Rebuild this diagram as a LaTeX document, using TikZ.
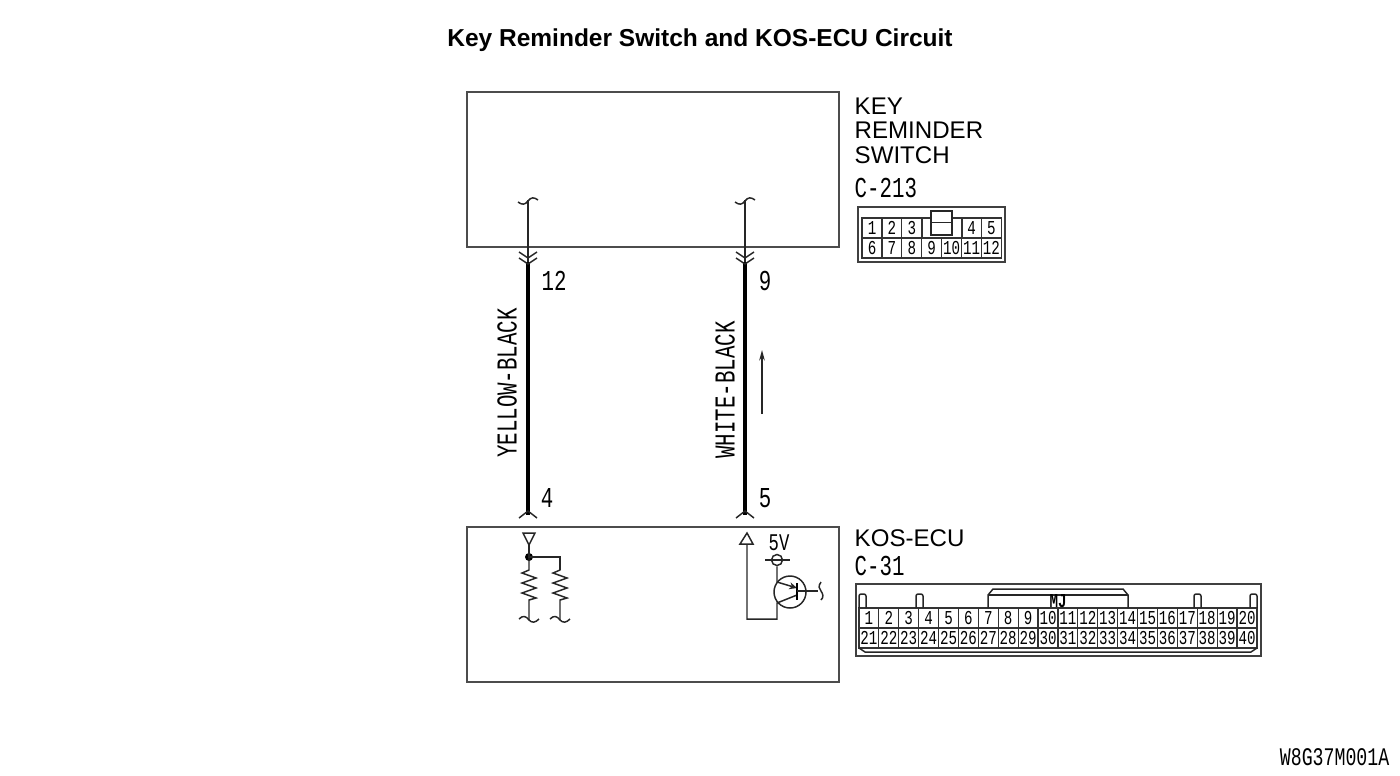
\documentclass[tikz,border=0pt]{standalone}
\usepackage{fontspec}
\setmainfont{Liberation Sans}
\newfontfamily\narrowfont[FakeStretch=0.72]{Liberation Mono}
\usetikzlibrary{arrows.meta}
\definecolor{boxgray}{gray}{0.3}
\newdimen\punit \punit=0.01cm
\tikzset{
    unit/.style={draw=boxgray, line width=0.5pt, inner sep=0pt},
    name text/.style={anchor=west, inner sep=0pt, font=\fontsize{6.85}{6.85}\selectfont},
    wire text/.style={inner sep=0pt, font=\narrowfont\fontsize{8.2}{8.2}\selectfont},
    thin wire/.style={line width=0.42pt, black!85},
    cell/.style={draw=black!80, line width=0.35pt, inner sep=0pt, minimum height=20\punit, font=\narrowfont\fontsize{5.6}{5.6}\selectfont},
}
\begin{document}
\begin{tikzpicture}[x=0.01cm, y=-0.01cm]
    \useasboundingbox (0,0) rectangle (1400,775);
    \node[inner sep=0pt, font=\bfseries\fontsize{6.97}{6.97}\selectfont] (title) at (700,40) {Key Reminder Switch and KOS-ECU Circuit};

    % units
    \node[unit, minimum width=372\punit, minimum height=155\punit] (switch) at (653,169.5) {};
    \node[unit, minimum width=372\punit, minimum height=155\punit] (ecu) at (653,604.5) {};
    \node[name text] (key) at (854,106) {KEY};
    \node[name text] (rem) at (854,130) {REMINDER};
    \node[name text] (sw) at (854,155) {SWITCH};
    \node[name text] (kos) at (854,538) {KOS-ECU};
    \node[wire text, anchor=west] (c213) at (854,188) {C-213};
    \node[wire text, anchor=west] (c31) at (854,566) {C-31};
    \node[wire text, anchor=east, font=\narrowfont\fontsize{7.2}{7.2}\selectfont] (code) at (1390,757) {W8G37M001A};

    % wires
    \foreach \n/\x in {a/528, b/745} {
        \coordinate (\n top) at (\x,200);
        \coordinate (\n mid) at (\x,262);
        \coordinate (\n low) at (\x,515);
        \draw[thin wire] (\n top) -- (\n mid);
        \draw[line width=1pt] (\n mid) -- (\n low);
        \draw[thin wire] (\x-10,202) .. controls (\x-6,205) and (\x-3,205) .. (\x,201) .. controls (\x+3,197) and (\x+6,197) .. (\x+10,200);
        \draw[thin wire] (\x-9,252) -- (\x,258) -- (\x+9,252);
        \draw[thin wire] (\x-9,258) -- (\x,264) -- (\x+9,258);
        \draw[thin wire] (\x-9,518) -- (\x,511) -- (\x+9,518);
    }
    \node[wire text] (p12) at (554,281) {12};
    \node[wire text] (p9) at (765,281) {9};
    \node[wire text] (p4) at (547,498) {4};
    \node[wire text] (p5) at (765,498) {5};
    \node[wire text, rotate=90] (yb) at (507,383) {YELLOW-BLACK};
    \node[wire text, rotate=90] (wb) at (725,390) {WHITE-BLACK};
    \coordinate (arr low) at (762,414);
    \coordinate (arr top) at (762,350);
    \draw[thin wire, -{Stealth[length=3pt, width=1.6pt]}] (arr low) -- (arr top);

    % input side of ecu
    \draw[thin wire] (523,533) -- (535,533) -- (529,545) -- cycle;
    \coordinate (dot) at (529,557);
    \fill (dot) circle (4);
    \draw[thin wire] (529,545) -- (dot) -- (560,557) -- (560,570);
    \foreach \x in {529,560} {
        \draw[thin wire] (\x,557) -- (\x,570) -- (\x-7,573) -- (\x+7,578) -- (\x-7,583) -- (\x+7,588) -- (\x-7,593) -- (\x+7,598) -- (\x,600) -- (\x,620);
        \draw[thin wire] (\x-10,619) .. controls (\x-6,615) and (\x-3,616) .. (\x,620) .. controls (\x+3,623) and (\x+6,623) .. (\x+10,619);
    }

    % output side of ecu
    \draw[thin wire] (740,544) -- (753,544) -- (747,533) -- cycle;
    \node[wire text, font=\narrowfont\fontsize{6.8}{6.8}\selectfont] (v5) at (779,543) {5V};
    \node[draw=black!85, line width=0.42pt, circle, minimum size=11\punit, inner sep=0pt] (supply) at (777,560) {};
    \draw[thin wire] (765,560) -- (790,560);
    \node[draw=black!85, line width=0.42pt, circle, minimum size=32\punit, inner sep=0pt] (tr) at (790,592) {};
    \draw[thin wire] (747,544) -- (747,619) -- (777,619) -- (777,603) -- (797,595);
    \draw[thin wire, -{Stealth[length=2.2pt, width=2pt]}] (supply) -- (777,582) -- (797,588);
    \draw[line width=0.5pt] (797,583) -- (797,600);
    \draw[thin wire] (797,591) -- (818,591);
    \draw[thin wire] (821,582) .. controls (818,586) and (819,589) .. (821,591) .. controls (823,594) and (824,597) .. (821,600);

    % connector C-213
    \node[draw=black!75, line width=0.4pt, minimum width=147\punit, minimum height=55\punit, inner sep=0pt] (c213 box) at (931.5,234.5) {};
    \foreach \n/\i in {1/0,2/1,3/2,4/5,5/6}
        \node[cell, minimum width=19.9\punit] (sa\i) at (872+19.9*\i,228) {\n};
    \node[cell, minimum width=40\punit] (sa gap) at (942,228) {};
    \foreach \n/\i in {6/0,7/1,8/2,9/3,10/4,11/5,12/6}
        \node[cell, minimum width=19.9\punit] (sb\i) at (872+19.9*\i,248) {\n};
    \draw[thin wire] (931,222) rectangle (952,235);
    \draw[thin wire, fill=white] (931,222) -- (931,211) -- (952,211) -- (952,222);

    % connector C-31
    \node[draw=black!75, line width=0.45pt, minimum width=405\punit, minimum height=72\punit, inner sep=0pt] (c31 box) at (1058.5,620) {};
    \foreach \i in {1,...,20} {
        \node[cell, minimum width=19.9\punit] (ta\i) at (849+19.9*\i,618) {\i};
        \pgfmathtruncatemacro\m{\i+20}
        \node[cell, minimum width=19.9\punit] (tb\i) at (849+19.9*\i,638) {\m};
    }
    \draw[thin wire] (859,648) -- (865,652) -- (1251,652) -- (1257,648);
    \foreach \x in {859,916,1194,1250}
        \draw[thin wire, rounded corners=0.6pt] (\x,608) -- (\x,594) -- (\x+7,594) -- (\x+7,608);
    \draw[thin wire] (988,608) -- (988,595) -- (993,589) -- (1123,589) -- (1128,595) -- (1128,608);
    \draw[thin wire] (988,595) -- (1128,595);
    \node[wire text, font=\narrowfont\bfseries\fontsize{5.6}{5.6}\selectfont] (mj) at (1058,601) {MJ};
\end{tikzpicture}
\end{document}
